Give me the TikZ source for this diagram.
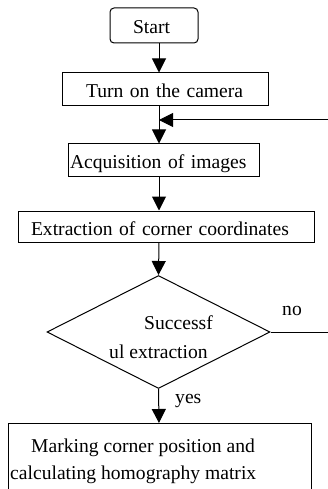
\documentclass[tikz,border=0pt]{standalone}
\usepackage{fontspec}
\setmainfont{Liberation Serif}
\usetikzlibrary{arrows.meta,shapes.geometric}
\begin{document}
\begin{tikzpicture}[x=1pt,y=-1pt,
  every node/.style={font=\fontsize{19.6}{24}\selectfont, text=black},
  box/.style={draw, line width=1pt, inner xsep=2pt, inner ysep=0pt, text height=17pt, text depth=0pt, align=left},
  arr/.style={line width=1pt, -{Triangle[length=14pt,width=14pt]}},
  lbl/.style={anchor=base west, inner sep=0pt}]
\useasboundingbox (0,0) rectangle (328,489);
\clip (0,0) rectangle (328,489);
\fill[white] (0,0) rectangle (328,489);
\coordinate (axis) at (159,0);
\coordinate (loopR) at (345,0);
\coordinate (join) at (159,120);
% boxes
\node[box, rounded corners=4pt, minimum height=35pt, text width=84pt] (start) at (154,25.5) {\hspace*{21pt}Start};
\node[box, minimum height=33pt, text width=202pt] (turn) at (165,89.5) {\hspace*{22pt}Turn on the camera};
\node[box, minimum height=32pt, text width=187pt] (acq) at (163.5,160) {Acquisition of images};
\node[box, minimum height=31pt, text width=292pt] (ext) at (166,226.5) {\hspace*{11pt}Extraction of corner coordinates};
\node[draw, diamond, line width=1pt, minimum width=223pt, minimum height=113pt, inner sep=0pt] (dia) at (158.5,332) {};
\node[lbl] (succ1) at (144,329) {Successf};
\node[lbl] (succ2) at (109,358) {ul extraction};
\node[draw, line width=1pt, anchor=north west, minimum width=303pt, minimum height=90pt, inner sep=0pt] (mark) at (8,423) {};
\node[lbl] (mark1) at (31,452) {Marking corner position and};
\node[lbl] (mark2) at (10,479) {calculating homography matrix};
% labels
\node[lbl] (no) at (282,315) {no};
\node[lbl] (yes) at (175,403) {yes};
% connectors
\draw[arr] (start.south -| axis) -- (turn.north -| axis);
\draw[arr] (turn.south -| axis) -- (acq.north -| axis);
\draw[arr] (acq.south -| axis) -- (ext.north -| axis);
\draw[arr] (ext.south -| axis) -- (dia.north);
\draw[arr] (dia.south) -- (mark.north -| axis);
\draw[arr] (dia.east) -- (dia.east -| loopR) |- (join);
\end{tikzpicture}
\end{document}
